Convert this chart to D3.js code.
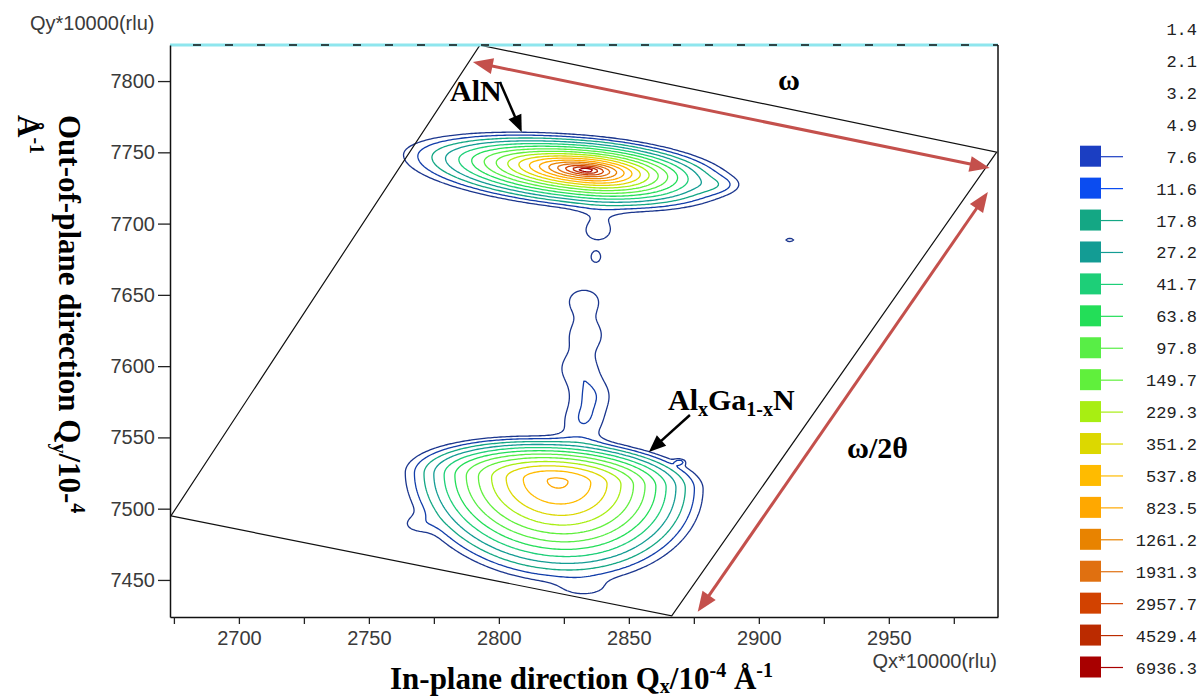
<!DOCTYPE html>
<html>
<head>
<meta charset="utf-8">
<script src="https://cdn.jsdelivr.net/npm/d3@7"></script>
<style>
  html, body { margin: 0; padding: 0; background: #fff; }
  svg { display: block; }
</style>
</head>
<body>
<svg id="chart" width="1201" height="700"></svg>
<script>
// ---- axes ----
const qxDomain = [2673.5, 2992];
const qyDomain = [7424, 7825.3];
const qxTicks = [2700, 2750, 2800, 2850, 2900, 2950];
const qxMinorTicks = [2675, 2725, 2775, 2825, 2875, 2925, 2975];
const qyTicks = [7450, 7500, 7550, 7600, 7650, 7700, 7750, 7800];

// ---- contour levels (intensity, counts) ----
const levels = [1.4, 2.1, 3.2, 4.9, 7.6, 11.6, 17.8, 27.2, 41.7, 63.8, 97.8, 149.7,
                229.3, 351.2, 537.8, 823.5, 1261.2, 1931.3, 2957.7, 4529.4, 6936.3];
const levelColors = [null, null, null, null, "#1b3ec2", "#0b4cf0", "#14a784", "#139c94",
                     "#1dcf78", "#23de58", "#58ee46", "#60f03c", "#a8ee12", "#dcd800",
                     "#ffbb00", "#ffa800", "#e88300", "#e07010", "#d24200", "#bb2b00", "#a80000"];

// ---- reflections: AlN layer and AlGaN layer ----
const peakNames       = ["AlN", "AlxGa1-xN"];
const peakQx          = [2833.8, 2822.7];
const peakQy          = [7737.6, 7519.4];
const peakHeight      = [16000, 900];
const peakShape       = [0.7, 1.5];
const peakWidthLeft   = [3.85, 20.7];
const peakWidthRight  = [3.04, 19.7];
const peakWidthUp     = [1.33, 10.9];
const peakWidthDown   = [1.53, 25.0];
const peakTilt        = [-0.15, -0.1];

// ---- diffuse streak between the two reflections ----
const streakQx     = [2838.1, 2832.7, 2833.5, 2830.4, 2835.8, 2832.3];
const streakQy     = [7694.1, 7646.4, 7621.8, 7598.7, 7579.8, 7560.8];
const streakHeight = [8.5, 9.5, 9.5, 9.5, 9.5, 10.0];

// ---- weak isolated spots ----
const spotQx     = [2911.9, 2883.1, 2767.7, 2833.1, 2869.6, 2837.3];
const spotQy     = [7688.5, 7727.0, 7488.6, 7443.0, 7532.8, 7675.9];
const spotHeight = [9.0, 6.0, 5.0, 5.0, 8.5, 8.8];
const spotWidthX = [2.5, 6.0, 5.0, 8.0, 1.5, 2.0];
const spotWidthY = [2.0, 4.0, 5.0, 5.0, 1.5, 4.0];

// ---- scanned area outline (corners) ----
const scanQx = [2673.85, 2792.7, 2991.5, 2866.5, 2673.85];
const scanQy = [7494.9, 7825.25, 7750.2, 7424.75, 7494.9];

// ---- scan-direction arrows and peak pointers ----
const omegaArrow = [[2790.0, 7813.3], [2988.8, 7739.0]];
const omega2ThetaArrow = [[2988.1, 7722.1], [2876.5, 7427.6]];
const alnArrow = [[2800.4, 7799.3], [2808.8, 7764.2]];
const alganArrow = [[2873.5, 7565.7], [2857.7, 7539.8]];

const svg = d3.select("#chart");
const plot = { left: 170, right: 998, top: 45, bottom: 617 };

const x = d3.scaleLinear().domain(qxDomain).range([plot.left, plot.right]);
const y = d3.scaleLinear().domain(qyDomain).range([plot.bottom, plot.top]);

svg.append("rect").attr("width", 1201).attr("height", 700).attr("fill", "#fff");

svg.append("defs").append("clipPath").attr("id", "plotClip")
  .append("rect")
  .attr("x", plot.left).attr("y", plot.top)
  .attr("width", plot.right - plot.left).attr("height", plot.bottom - plot.top);

// ---- intensity field ----
function peakValue(k, qx, qy) {
  const dx = qx - peakQx[k];
  const dy = qy - peakQy[k];
  const dyt = dy - peakTilt[k] * dx;
  const sx = dx < 0 ? peakWidthLeft[k] : peakWidthRight[k];
  const sy = dyt > 0 ? peakWidthUp[k] : peakWidthDown[k];
  const r = Math.hypot(dx / sx, dyt / sy);
  return peakHeight[k] * Math.exp(-Math.pow(r, peakShape[k]));
}
function gauss(a, cx, cy, wx, wy, qx, qy) {
  const u = (qx - cx) / wx, v = (qy - cy) / wy;
  return a * Math.exp(-0.5 * (u * u + v * v));
}
function intensity(qx, qy) {
  let v = 0;
  for (let k = 0; k < peakQx.length; k++) v += peakValue(k, qx, qy);
  for (let k = 0; k < streakQx.length; k++) v += gauss(streakHeight[k], streakQx[k], streakQy[k], 7.5, 10, qx, qy);
  for (let k = 0; k < spotQx.length; k++) v += gauss(spotHeight[k], spotQx[k], spotQy[k], spotWidthX[k], spotWidthY[k], qx, qy);
  return v;
}

const stepQx = 0.8, stepQy = 1.2;
const nx = Math.round((qxDomain[1] - qxDomain[0]) / stepQx) + 1;
const ny = Math.round((qyDomain[1] - qyDomain[0]) / stepQy) + 1;
const grid = new Float64Array(nx * ny);
for (let j = 0; j < ny; j++) {
  const qy = qyDomain[1] - j * stepQy;
  for (let i = 0; i < nx; i++) {
    grid[j * nx + i] = intensity(qxDomain[0] + i * stepQx, qy);
  }
}

const drawnLevels = levels.filter((d, i) => levelColors[i]);
const colorOf = d3.scaleOrdinal().domain(levels).range(levelColors);
// the two faintest isolines are drawn in a deeper, greyer blue than their swatches
const lineColorOf = v => v < 15 ? d3.interpolateRgb(colorOf(v), "#1c2a40")(0.4) : colorOf(v);
const contours = d3.contours().size([nx, ny]).thresholds(drawnLevels)(grid);

const gridProjection = d3.geoTransform({
  point(px, py) {
    this.stream.point(x(qxDomain[0] + (px - 0.5) * stepQx), y(qyDomain[1] - (py - 0.5) * stepQy));
  }
});
const contourPath = d3.geoPath(gridProjection);

const gContours = svg.append("g").attr("clip-path", "url(#plotClip)");
gContours.selectAll("path")
  .data(contours)
  .join("path")
  .attr("d", contourPath)
  .attr("fill", "none")
  .attr("stroke", d => lineColorOf(d.value))
  .attr("stroke-width", 1.3)
  .attr("stroke-linejoin", "round");

// ---- scanned area outline ----
svg.append("path")
  .datum(scanQx.map((q, i) => [q, scanQy[i]]))
  .attr("d", d3.line().x(d => x(d[0])).y(d => y(d[1])))
  .attr("fill", "none")
  .attr("stroke", "#111")
  .attr("stroke-width", 1.2);

// ---- frame ----
svg.append("line")
  .attr("x1", plot.left).attr("x2", plot.right)
  .attr("y1", plot.top).attr("y2", plot.top)
  .attr("stroke", "#8ee6ee").attr("stroke-width", 3);
svg.append("line")
  .attr("x1", plot.left).attr("x2", plot.right)
  .attr("y1", plot.top).attr("y2", plot.top)
  .attr("stroke", "#111").attr("stroke-width", 1.5)
  .attr("stroke-dasharray", "8 24").attr("stroke-dashoffset", 9);
svg.append("line")
  .attr("x1", plot.right).attr("x2", plot.right)
  .attr("y1", plot.top).attr("y2", plot.bottom)
  .attr("stroke", "#111").attr("stroke-width", 1.5);

// ---- axes ----
const tickFont = "'Liberation Sans', Arial, sans-serif";
svg.append("g")
  .attr("transform", `translate(0,${plot.bottom})`)
  .call(d3.axisBottom(x).tickValues(qxTicks).tickSize(7).tickPadding(7).tickSizeOuter(0).tickFormat(d3.format("d")));
svg.append("g")
  .attr("transform", `translate(0,${plot.bottom})`)
  .call(d3.axisBottom(x).tickValues(qxMinorTicks).tickSize(7).tickSizeOuter(0).tickFormat(""))
  .call(g => g.select(".domain").remove());
svg.append("g")
  .attr("transform", `translate(${plot.left},0)`)
  .call(d3.axisLeft(y).tickValues(qyTicks).tickSize(12).tickPadding(3).tickSizeOuter(0).tickFormat(d3.format("d")));

svg.selectAll(".domain").attr("stroke", "#111").attr("stroke-width", 1.5);
svg.selectAll(".tick line").attr("stroke", "#222").attr("stroke-width", 1.3);
svg.selectAll(".tick text")
  .attr("font-family", tickFont).attr("font-size", 20).attr("fill", "#3a3a3a");

svg.append("text")
  .attr("x", 30).attr("y", 30)
  .attr("font-family", tickFont).attr("font-size", 20).attr("fill", "#3a3a3a")
  .text("Qy*10000(rlu)");
svg.append("text")
  .attr("x", 997).attr("y", 668).attr("text-anchor", "end")
  .attr("font-family", tickFont).attr("font-size", 20).attr("fill", "#3a3a3a")
  .text("Qx*10000(rlu)");

// ---- axis titles ----
const serif = "'Liberation Serif', 'Times New Roman', serif";
const xt = svg.append("text")
  .attr("x", 390).attr("y", 689)
  .attr("font-family", serif).attr("font-weight", "bold").attr("font-size", 31).attr("fill", "#000");
xt.append("tspan").text("In-plane direction Q");
xt.append("tspan").attr("font-size", 20).attr("dy", 4).text("x");
xt.append("tspan").attr("dy", -4).text("/10");
xt.append("tspan").attr("font-size", 20).attr("dy", -12).text("-4");
xt.append("tspan").attr("dy", 12).text(" Å");
xt.append("tspan").attr("font-size", 20).attr("dy", -12).text("-1");

const yt = svg.append("text")
  .attr("transform", "translate(59,115) rotate(90)")
  .attr("font-family", serif).attr("font-weight", "bold").attr("font-size", 31).attr("fill", "#000");
yt.append("tspan").attr("x", 0).attr("y", 0).text("Out-of-plane direction Q");
yt.append("tspan").attr("font-size", 20).attr("dy", 6).text("y");
yt.append("tspan").attr("dy", -6).text("/10-");
yt.append("tspan").attr("font-size", 20).attr("dy", -12).text("4");
yt.append("tspan").attr("x", 0).attr("y", 41).text("Å");
yt.append("tspan").attr("font-size", 20).attr("dy", -12).text("-1");

// ---- arrows ----
function arrowHead(g, tip, from, len, halfW, color) {
  const dx = tip[0] - from[0], dy = tip[1] - from[1];
  const L = Math.hypot(dx, dy), ux = dx / L, uy = dy / L;
  const bx = tip[0] - ux * len, by = tip[1] - uy * len;
  g.append("path")
    .attr("d", `M${tip[0]},${tip[1]}L${bx - uy * halfW},${by + ux * halfW}L${bx + uy * halfW},${by - ux * halfW}Z`)
    .attr("fill", color);
}
function drawArrow(ends, opts) {
  const a = [x(ends[0][0]), y(ends[0][1])];
  const b = [x(ends[1][0]), y(ends[1][1])];
  const dx = b[0] - a[0], dy = b[1] - a[1];
  const L = Math.hypot(dx, dy), ux = dx / L, uy = dy / L;
  const s = opts.double ? [a[0] + ux * opts.len * 0.8, a[1] + uy * opts.len * 0.8] : a;
  const e = [b[0] - ux * opts.len * 0.8, b[1] - uy * opts.len * 0.8];
  const g = svg.append("g");
  g.append("line")
    .attr("x1", s[0]).attr("y1", s[1]).attr("x2", e[0]).attr("y2", e[1])
    .attr("stroke", opts.color).attr("stroke-width", opts.width);
  arrowHead(g, b, a, opts.len, opts.halfW, opts.color);
  if (opts.double) arrowHead(g, a, b, opts.len, opts.halfW, opts.color);
}
const red = "#c4504c";
drawArrow(omegaArrow, { color: red, width: 3, len: 20, halfW: 8, double: true });
drawArrow(omega2ThetaArrow, { color: red, width: 3, len: 20, halfW: 8, double: true });
drawArrow(alnArrow, { color: "#000", width: 2.5, len: 17, halfW: 7, double: false });
drawArrow(alganArrow, { color: "#000", width: 2.5, len: 17, halfW: 7, double: false });

// ---- annotations ----
function label(px, py, parts) {
  const t = svg.append("text").attr("x", px).attr("y", py)
    .attr("font-family", serif).attr("font-weight", "bold").attr("font-size", 30).attr("fill", "#000");
  parts.forEach(p => {
    const s = t.append("tspan").text(p.t);
    if (p.sub) s.attr("font-size", 20).attr("dy", p.dy);
    else if (p.dy) s.attr("dy", p.dy);
  });
}
label(450, 101, [{ t: "AlN" }]);
label(778, 90, [{ t: "ω" }]);
label(847, 458, [{ t: "ω/2θ" }]);
label(668, 410, [
  { t: "Al" }, { t: "x", sub: true, dy: 6 }, { t: "Ga", dy: -6 },
  { t: "1-x", sub: true, dy: 6 }, { t: "N", dy: -6 }
]);

// ---- legend ----
const rowY = d3.scalePoint().domain(levels).range([29, 667.5]);
const legend = svg.append("g");
const rows = legend.selectAll("g").data(levels).join("g")
  .attr("transform", d => `translate(0,${rowY(d)})`);
rows.filter((d, i) => levelColors[i])
  .append("rect")
  .attr("x", 1080).attr("y", -11).attr("width", 21).attr("height", 21)
  .attr("fill", d => colorOf(d));
rows.filter((d, i) => levelColors[i])
  .append("line")
  .attr("x1", 1101).attr("x2", 1123).attr("y1", 0).attr("y2", 0)
  .attr("stroke", d => colorOf(d)).attr("stroke-width", 1.2);
rows.append("text")
  .attr("x", 1197).attr("y", 6).attr("text-anchor", "end")
  .attr("font-family", "'Liberation Mono', 'Courier New', monospace")
  .attr("font-size", 17).attr("fill", "#222")
  .text(d => d3.format(".1f")(d));
</script>
</body>
</html>
